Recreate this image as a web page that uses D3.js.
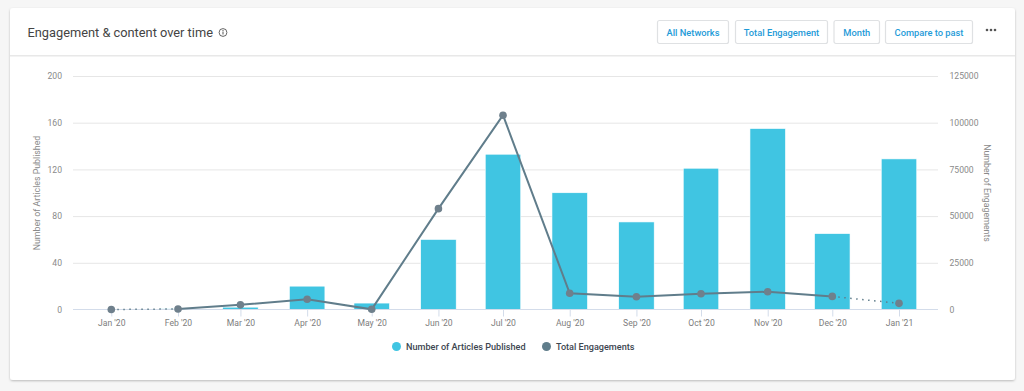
<!DOCTYPE html>
<html>
<head>
<meta charset="utf-8">
<script src="https://cdn.jsdelivr.net/npm/d3@7"></script>
<style>
  html, body { margin: 0; padding: 0; background: #f6f6f6; overflow: hidden; }
  svg { display: block; font-family: Roboto, sans-serif; }
  .domain { display: none; }
</style>
</head>
<body>
<div id="visualization"></div>
<script>
const months = ["2020-01-01", "2020-02-01", "2020-03-01", "2020-04-01", "2020-05-01", "2020-06-01", "2020-07-01",
  "2020-08-01", "2020-09-01", "2020-10-01", "2020-11-01", "2020-12-01", "2021-01-01"];
const articles = [0, 0.6, 2, 20, 5.5, 60, 133, 100, 75, 121, 155, 65, 129];
const engagements = [0, 300, 2500, 5500, 100, 54000, 104000, 8700, 6800, 8400, 9500, 7000, 3300];
const articleTicks = [0, 40, 80, 120, 160, 200];
const engagementTicks = [0, 25000, 50000, 75000, 100000, 125000];
const buttons = ["All Networks", "Total Engagement", "Month", "Compare to past"];
const legendItems = ["Number of Articles Published", "Total Engagements"];

const width = 1024;
const height = 391;
const barColor = "#40c5e2";
const lineColor = "#607d8b";
const dotColor = "#6f808c";
const blue = "#1f9bd8";

const parseDay = d3.utcParse("%Y-%m-%d");
const dates = months.map(parseDay);

const svg = d3.select("#visualization").append("svg")
  .attr("width", width)
  .attr("height", height);

// card
const defs = svg.append("defs");
const shadow = defs.append("filter").attr("id", "card-shadow")
  .attr("x", "-2%").attr("y", "-2%").attr("width", "104%").attr("height", "104%");
shadow.append("feDropShadow")
  .attr("dx", 0).attr("dy", 1).attr("stdDeviation", 1)
  .attr("flood-color", "#000").attr("flood-opacity", 0.25);

svg.append("rect")
  .attr("x", 10).attr("y", 8)
  .attr("width", 1005).attr("height", 372)
  .attr("rx", 3)
  .attr("fill", "#fff")
  .attr("filter", "url(#card-shadow)");

svg.append("rect")
  .attr("x", 10).attr("y", 55)
  .attr("width", 1005).attr("height", 1.5)
  .attr("fill", "#e8e8e8");

// header
svg.append("text")
  .attr("x", 27.5).attr("y", 37)
  .attr("font-size", 12.8)
  .attr("fill", "#444")
  .text("Engagement & content over time");

const info = svg.append("g").attr("transform", "translate(223,32.5)");
info.append("circle").attr("r", 3.9).attr("fill", "none").attr("stroke", "#555").attr("stroke-width", 0.9);
info.append("rect").attr("x", -0.5).attr("y", -1).attr("width", 1).attr("height", 3).attr("fill", "#555");
info.append("rect").attr("x", -0.5).attr("y", -2.5).attr("width", 1).attr("height", 1).attr("fill", "#555");

const buttonLefts = [657.5, 735.5, 834, 885.5];
const buttonWidths = [71, 92, 45.5, 87];
const btn = svg.append("g").selectAll("g")
  .data(buttons)
  .join("g")
  .attr("transform", (d, i) => `translate(${buttonLefts[i]},20.5)`);
btn.append("rect")
  .attr("width", (d, i) => buttonWidths[i])
  .attr("height", 23)
  .attr("rx", 2)
  .attr("fill", "#fff")
  .attr("stroke", "#dfe1e3")
  .attr("stroke-width", 1.2);
btn.append("text")
  .attr("x", (d, i) => buttonWidths[i] / 2)
  .attr("y", 15.2)
  .attr("text-anchor", "middle")
  .attr("font-size", 9.3)
  .attr("font-weight", 500)
  .attr("fill", blue)
  .text(d => d);

svg.append("g").selectAll("circle")
  .data([987, 991, 995])
  .join("circle")
  .attr("cx", d => d).attr("cy", 30).attr("r", 1.3)
  .attr("fill", "#555");

// scales
const x = d3.scaleUtc().domain([dates[0], dates[12]]).range([111.3, 899]);
const yLeft = d3.scaleLinear().domain([0, 200]).range([309.5, 76]);
const yRight = d3.scaleLinear().domain([0, 125000]).range([309.5, 76]);
const barWidth = 35.5;

// axes
const gridAxis = svg.append("g")
  .attr("transform", "translate(73,0)")
  .call(d3.axisRight(yLeft).tickValues(articleTicks.slice(1)).tickSize(865).tickFormat(""));
gridAxis.selectAll("line").attr("stroke", "#e6e6e6");

const leftAxis = svg.append("g")
  .attr("transform", "translate(62,0)")
  .call(d3.axisLeft(yLeft).tickValues(articleTicks).tickSize(0).tickPadding(0));
leftAxis.selectAll("text").attr("font-size", 8.6).attr("fill", "#8a8a8a").attr("font-family", "Roboto, sans-serif");

const rightAxis = svg.append("g")
  .attr("transform", "translate(949.5,0)")
  .call(d3.axisRight(yRight).tickValues(engagementTicks).tickSize(0).tickPadding(0).tickFormat(d3.format("d")));
rightAxis.selectAll("text").attr("font-size", 8.6).attr("fill", "#8a8a8a").attr("font-family", "Roboto, sans-serif");

const bottomAxis = svg.append("g")
  .attr("transform", "translate(0,309.5)")
  .call(d3.axisBottom(x).tickValues(dates).tickSize(7).tickPadding(3).tickFormat(d3.utcFormat("%b '%y")));
bottomAxis.selectAll("line").attr("stroke", "#d3dcea");
bottomAxis.selectAll("text").attr("font-size", 8.6).attr("fill", "#7d7d7d").attr("font-family", "Roboto, sans-serif");

svg.append("text")
  .attr("transform", "translate(40,193) rotate(-90)")
  .attr("text-anchor", "middle")
  .attr("font-size", 8.8)
  .attr("fill", "#8a8a8a")
  .text("Number of Articles Published");

svg.append("text")
  .attr("transform", "translate(984,193) rotate(90)")
  .attr("text-anchor", "middle")
  .attr("font-size", 8.8)
  .attr("fill", "#8a8a8a")
  .text("Number of Engagements");

// bars
svg.append("g").selectAll("rect")
  .data(articles)
  .join("rect")
  .attr("x", (d, i) => x(dates[i]) - barWidth / 2)
  .attr("y", d => yLeft(d))
  .attr("width", barWidth)
  .attr("height", d => yLeft(0) - yLeft(d))
  .attr("fill", barColor)
  .attr("stroke", "#fff")
  .attr("stroke-width", d => d > 0 ? 0.6 : 0);

// baseline above the bars
svg.append("line")
  .attr("x1", 73).attr("x2", 938)
  .attr("y1", yRight(0)).attr("y2", yRight(0))
  .attr("stroke", "#d3dcea");

// engagement line, first and last segments are dotted
const line = d3.line()
  .x(d => x(dates[d]))
  .y(d => yRight(engagements[d]));
const idx = d3.range(months.length);

svg.append("path")
  .attr("d", line(idx.slice(1, 12)))
  .attr("fill", "none")
  .attr("stroke", lineColor)
  .attr("stroke-width", 2);

svg.selectAll("path.dotted")
  .data([idx.slice(0, 2), idx.slice(11)])
  .join("path")
  .attr("class", "dotted")
  .attr("d", d => line(d))
  .attr("fill", "none")
  .attr("stroke", lineColor)
  .attr("stroke-width", 1.5)
  .attr("stroke-dasharray", "1.5 4.5");

svg.append("g").selectAll("circle")
  .data(idx)
  .join("circle")
  .attr("cx", d => x(dates[d]))
  .attr("cy", d => yRight(engagements[d]))
  .attr("r", 3.8)
  .attr("fill", dotColor);

// legend
const legendX = [396.5, 546.5];
const legend = svg.append("g").selectAll("g")
  .data(legendItems)
  .join("g")
  .attr("transform", (d, i) => `translate(${legendX[i]},346.5)`);
legend.append("circle")
  .attr("r", 4.5)
  .attr("fill", (d, i) => i === 0 ? barColor : lineColor);
legend.append("text")
  .attr("x", 9.5)
  .attr("y", 3.3)
  .attr("font-size", 9.1)
  .attr("font-weight", 500)
  .attr("fill", "#3d4650")
  .text(d => d);
</script>
</body>
</html>
